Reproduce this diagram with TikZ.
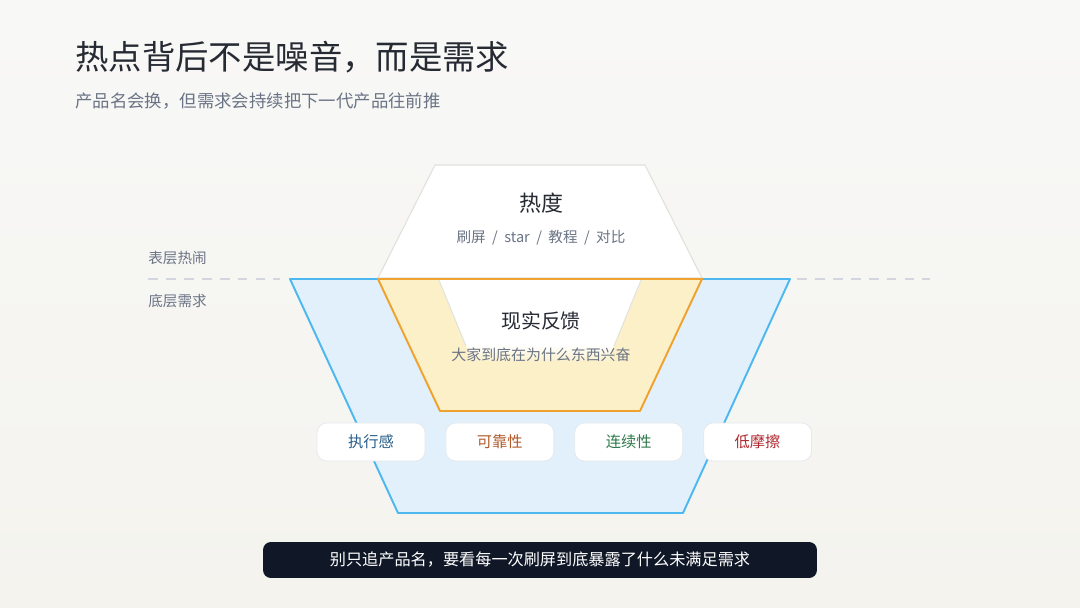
\documentclass[tikz,border=0pt]{standalone}
\usepackage{fontspec}
\setmainfont{Noto Sans CJK SC}
\usepackage{xcolor}
\usetikzlibrary{positioning,fadings}
\definecolor{bgtop}{HTML}{F8F8F7}
\definecolor{bgbot}{HTML}{F4F3EE}
\definecolor{inkdark}{HTML}{262A33}
\definecolor{inkgray}{HTML}{6B7485}
\definecolor{bluefill}{HTML}{E1F0FB}
\definecolor{blueline}{HTML}{4DB8F0}
\definecolor{orangefill}{HTML}{FBF0C8}
\definecolor{orangeline}{HTML}{F0A22E}
\definecolor{edgegray}{HTML}{E0E0DC}
\definecolor{dashgray}{HTML}{D3D6DC}
\definecolor{pillline}{HTML}{E6EAEE}
\definecolor{tagblue}{HTML}{285E8A}
\definecolor{tagorange}{HTML}{B05A2A}
\definecolor{taggreen}{HTML}{2F7A4A}
\definecolor{tagred}{HTML}{B0282E}
\definecolor{barnavy}{HTML}{101828}

\begin{document}
\begin{tikzpicture}[
  x=0.02cm, y=-0.02cm,
  node distance=0.4cm,
  txt/.style={inner sep=0pt, anchor=center},
  pill/.style={draw=pillline, fill=white, rounded corners=5.5pt, line width=0.5pt,
               minimum width=2.16cm, minimum height=0.76cm, inner sep=0pt,
               font=\fontsize{8.7}{10}\selectfont},
  layer/.style={line width=1.1pt, line join=round},
  sidenote/.style={txt, anchor=west, text=inkgray, font=\fontsize{8.3}{10}\selectfont},
  divider/.style={draw=dashgray, line width=1.1pt, dash pattern=on 5.6pt off 4.6pt},
]
% background
\shade[top color=bgtop, bottom color=bgbot] (0,0) rectangle (1080,608);
\useasboundingbox (0,0) rectangle (1080,608);

% heading
\node[txt, anchor=west, text=inkdark, font=\fontsize{19}{22}\selectfont] (title) at (75,57)
  {热点背后不是噪音，而是需求};
\node[txt, anchor=west, text=inkgray, font=\fontsize{9.9}{12}\selectfont] (subtitle) at (75,101)
  {产品名会换，但需求会持续把下一代产品往前推};

% surface / depth divider
\draw[divider] (148,279) -- (280,279);
\draw[divider] (797,279) -- (930,279);
\node[sidenote] (surface) at (148,258) {表层热闹};
\node[sidenote] (depth)   at (148,301) {底层需求};

% layers
\filldraw[layer, fill=bluefill, draw=blueline] (290,279) -- (790,279) -- (683,513) -- (398,513) -- cycle;
\filldraw[fill=white, draw=edgegray, line width=0.6pt] (435,165) -- (645,165) -- (702,278) -- (378,278) -- cycle;
\filldraw[layer, fill=orangefill, draw=orangeline] (378,279) -- (702,279) -- (640,411) -- (440,411) -- cycle;
\fill[white] (439,280.2) -- (641,280.2) -- (614,346) -- (466,346) -- cycle;
\fill[white, path fading=south] (466,345) -- (614,345) -- (608,362) -- (472,362) -- cycle;
\draw[edgegray, line width=0.5pt] (439,280.2) -- (466,346);
\draw[edgegray, line width=0.5pt] (641,280.2) -- (614,346);

% heat
\node[txt, text=inkdark, font=\fontsize{12.5}{15}\selectfont] (heat) at (541,203) {热度};
\node[txt, text=inkgray, font=\fontsize{8.3}{10}\selectfont] (heatsub) at (541,238)
  {刷屏\hspace{1.8pt} / \hspace{1.8pt}star\hspace{1.8pt} / \hspace{1.8pt}教程\hspace{1.8pt} / \hspace{1.8pt}对比};

% feedback
\node[txt, text=inkdark, font=\fontsize{11.3}{14}\selectfont] (fb) at (541,321) {现实反馈};
\node[txt, text=inkgray, font=\fontsize{8.5}{10}\selectfont] (fbsub) at (541,355)
  {大家到底在为什么东西兴奋};

% needs
\node[pill, text=tagblue] (exec) at (371,442) {执行感};
\node[pill, text=tagorange, right=of exec] (rely) {可靠性};
\node[pill, text=taggreen, right=of rely] (cont) {连续性};
\node[pill, text=tagred, right=of cont] (fric) {低摩擦};

% takeaway
\node[fill=barnavy, rounded corners=4.5pt, minimum width=11.08cm, minimum height=0.72cm,
      inner sep=0pt, text=white, font=\fontsize{9.2}{11}\selectfont] (takeaway) at (540,560)
  {别只追产品名，要看每一次刷屏到底暴露了什么未满足需求};
\end{tikzpicture}
\end{document}
